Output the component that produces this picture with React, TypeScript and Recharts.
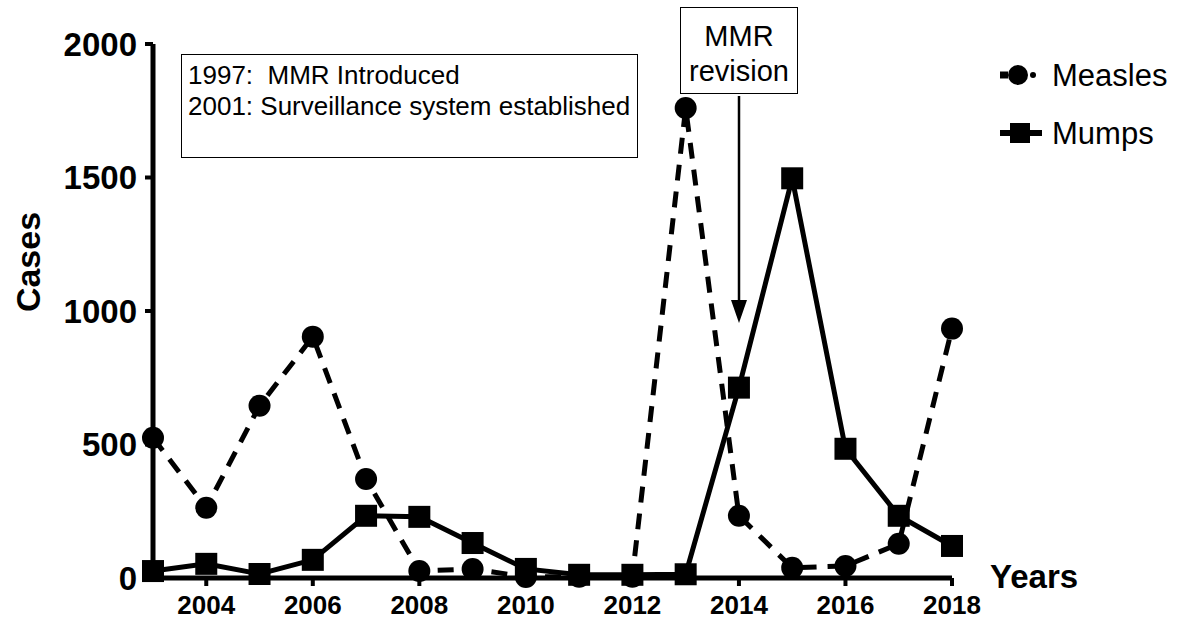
import { Line, LineChart, XAxis, YAxis } from 'recharts';

const years = [2003, 2004, 2005, 2006, 2007, 2008, 2009, 2010, 2011, 2012, 2013, 2014, 2015, 2016, 2017, 2018];
const measles = [525, 263, 645, 904, 371, 26, 34, 4, 5, 5, 1760, 233, 38, 45, 128, 934];
const mumps = [26, 53, 15, 68, 233, 229, 131, 34, 12, 12, 14, 713, 1497, 484, 233, 120];
const yearTicks = [2004, 2006, 2008, 2010, 2012, 2014, 2016, 2018];
const caseTicks = [0, 500, 1000, 1500, 2000];

const data = years.map((year, i) => ({ year, measles: measles[i], mumps: mumps[i] }));

const FONT = '"Liberation Sans", Arial, sans-serif';

const circleDot = (p: any) => (
  <circle key={`m-${p.index}`} cx={p.cx} cy={p.cy} r={11} fill="#000" />
);
const squareDot = (p: any) => (
  <rect key={`u-${p.index}`} x={p.cx - 11} y={p.cy - 11} width={22} height={22} fill="#000" />
);

export default function App() {
  return (
    <div style={{ position: 'absolute', left: 0, top: 0, width: 1190, height: 624, background: '#fff' }}>
      <LineChart
        width={1190}
        height={624}
        data={data}
        margin={{ top: 44, right: 238, bottom: 0, left: 73 }}
      >
        <XAxis
          dataKey="year"
          type="number"
          domain={[2003, 2018]}
          ticks={yearTicks}
          height={46}
          axisLine={{ stroke: '#000', strokeWidth: 5 }}
          tickLine={{ stroke: '#000', strokeWidth: 4 }}
          tickSize={8}
          tickMargin={10}
          tick={{ fontSize: 26, fontWeight: 'bold', fill: '#000', fontFamily: FONT }}
        />
        <YAxis
          type="number"
          domain={[0, 2000]}
          ticks={caseTicks}
          width={80}
          axisLine={{ stroke: '#000', strokeWidth: 5 }}
          tickLine={{ stroke: '#000', strokeWidth: 4 }}
          tickSize={8}
          tickMargin={8}
          tick={{ fontSize: 33, fontWeight: 'bold', fill: '#000', fontFamily: FONT }}
        />
        <Line
          dataKey="measles"
          stroke="#000"
          strokeWidth={5}
          strokeDasharray="16 11"
          dot={circleDot}
          isAnimationActive={false}
        />
        <Line
          dataKey="mumps"
          stroke="#000"
          strokeWidth={5}
          dot={squareDot}
          isAnimationActive={false}
        />
      </LineChart>
      <svg
        width={1190}
        height={624}
        style={{ position: 'absolute', left: 0, top: 0, pointerEvents: 'none' }}
        fontFamily={FONT}
      >
        {/* axis titles */}
        <text
          transform="translate(40,262) rotate(-90)"
          textAnchor="middle"
          fontSize={34}
          fontWeight="bold"
        >
          Cases
        </text>
        <text x={990} y={588} fontSize={33} fontWeight="bold">
          Years
        </text>

        {/* notes box */}
        <rect x={181.5} y={54.5} width={456} height={103} fill="none" stroke="#000" strokeWidth={1} />
        <text x={188} y={84} fontSize={26} style={{ whiteSpace: 'pre' }}>
          1997:  MMR Introduced
        </text>
        <text x={188} y={115} fontSize={26}>
          2001: Surveillance system established
        </text>

        {/* MMR revision box + arrow */}
        <rect x={680.5} y={7.5} width={117} height={86} fill="none" stroke="#000" strokeWidth={1} />
        <text x={739} y={46} fontSize={29} textAnchor="middle">
          MMR
        </text>
        <text x={739} y={81} fontSize={29} textAnchor="middle">
          revision
        </text>
        <line x1={739} y1={96} x2={739} y2={302} stroke="#000" strokeWidth={2.5} />
        <polygon points="731,300 747,300 739,323" fill="#000" />

        {/* legend */}
        <line x1={1000} y1={75} x2={1008} y2={75} stroke="#000" strokeWidth={7} />
        <circle cx={1018} cy={75} r={10} fill="#000" />
        <circle cx={1033} cy={75} r={3} fill="#000" />
        <text x={1052} y={86} fontSize={31}>
          Measles
        </text>
        <line x1={1000} y1={133} x2={1042} y2={133} stroke="#000" strokeWidth={6} />
        <rect x={1010} y={123} width={20} height={20} fill="#000" />
        <text x={1052} y={144} fontSize={31}>
          Mumps
        </text>
      </svg>
    </div>
  );
}
